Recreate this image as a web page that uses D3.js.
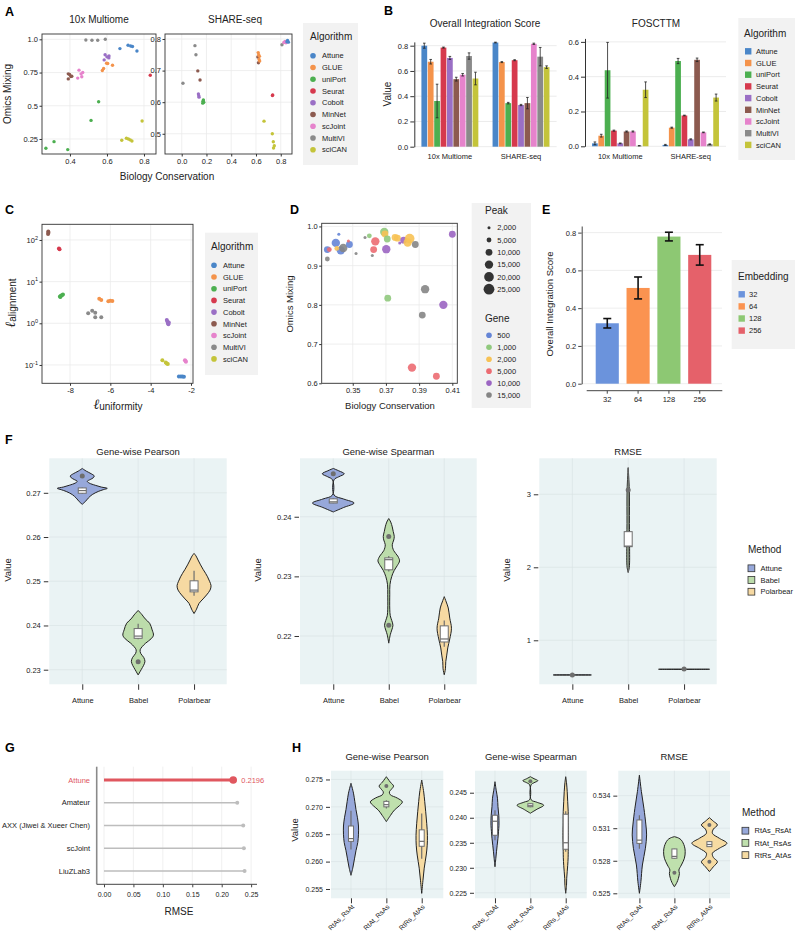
<!DOCTYPE html>
<html>
<head>
<meta charset="utf-8">
<script src="https://cdn.jsdelivr.net/npm/d3@7/dist/d3.min.js"></script>
<style>
  body { margin: 0; background: #fff; }
</style>
</head>
<body>
<div id="canvas"></div>
<script>
// ---------------- data ----------------
var algos = ['Attune','GLUE','uniPort','Seurat','Cobolt','MinNet','scJoint','MultiVI','sciCAN']
var algoPalette = ['#4a86c8','#f4934b','#4caf50','#d6394d','#9a6fc5','#8c5a4f','#e683cc','#8a8a8a','#c4c43a']

// A : [algorithm, biology conservation, omics mixing]
var aMultiome = [
  ['Attune',0.67,0.93],['Attune',0.714,0.955],['Attune',0.728,0.95],['Attune',0.738,0.946],['Attune',0.762,0.912],
  ['GLUE',0.575,0.765],['GLUE',0.582,0.78],['GLUE',0.598,0.82],['GLUE',0.604,0.818],['GLUE',0.63,0.805],
  ['uniPort',0.555,0.53],['uniPort',0.514,0.39],['uniPort',0.27,0.18],['uniPort',0.314,0.23],['uniPort',0.388,0.17],
  ['Seurat',0.834,0.73],
  ['Cobolt',0.59,0.884],['Cobolt',0.611,0.875],['Cobolt',0.61,0.86],['Cobolt',0.585,0.845],['Cobolt',0.6,0.868],
  ['MinNet',0.391,0.702],['MinNet',0.391,0.74],['MinNet',0.405,0.72],['MinNet',0.41,0.722],['MinNet',0.398,0.735],
  ['scJoint',0.449,0.768],['scJoint',0.469,0.75],['scJoint',0.46,0.74],['scJoint',0.442,0.708],['scJoint',0.464,0.718],
  ['MultiVI',0.486,0.995],['MultiVI',0.519,0.993],['MultiVI',0.55,0.993],['MultiVI',0.591,1.0],
  ['sciCAN',0.79,0.385],['sciCAN',0.705,0.255],['sciCAN',0.716,0.25],['sciCAN',0.726,0.243],['sciCAN',0.68,0.24],['sciCAN',0.735,0.235]
]
var aShare = [
  ['MultiVI',0.01,0.66],['MultiVI',0.107,0.779],['MultiVI',0.115,0.75],['MultiVI',0.81,0.782],
  ['MinNet',0.13,0.699],['MinNet',0.148,0.67],['MinNet',0.615,0.743],['MinNet',0.62,0.725],
  ['Cobolt',0.135,0.626],['Cobolt',0.138,0.62],['Cobolt',0.14,0.616],
  ['uniPort',0.175,0.607],['uniPort',0.172,0.603],['uniPort',0.178,0.6],['uniPort',0.17,0.597],
  ['GLUE',0.618,0.757],['GLUE',0.622,0.75],['GLUE',0.628,0.745],['GLUE',0.625,0.735],['GLUE',0.63,0.73],
  ['Seurat',0.735,0.623],['Seurat',0.733,0.621],
  ['sciCAN',0.665,0.54],['sciCAN',0.732,0.5],['sciCAN',0.74,0.475],['sciCAN',0.748,0.462],['sciCAN',0.742,0.455],
  ['scJoint',0.825,0.789],['scJoint',0.835,0.792],['scJoint',0.842,0.788],
  ['Attune',0.855,0.795],['Attune',0.862,0.79],['Attune',0.85,0.791]
]

// B : bar heights and error half-widths, order = algos
var bDatasets = ['10x Multiome','SHARE-seq']
var bOisMultiome    = [0.80,0.673,0.362,0.785,0.703,0.535,0.57,0.718,0.54]
var bOisMultiomeErr = [0.02,0.018,0.133,0.004,0.012,0.015,0.01,0.025,0.05]
var bOisShare       = [0.825,0.67,0.345,0.685,0.33,0.345,0.815,0.713,0.63]
var bOisShareErr    = [0.003,0.004,0.006,0.004,0.005,0.045,0.005,0.073,0.01]
var bFosMultiome    = [0.017,0.061,0.437,0.09,0.017,0.085,0.085,0.003,0.325]
var bFosMultiomeErr = [0.008,0.008,0.16,0.003,0.002,0.003,0.003,0.001,0.045]
var bFosShare       = [0.008,0.107,0.49,0.177,0.04,0.497,0.08,0.012,0.28]
var bFosShareErr    = [0.003,0.003,0.015,0.002,0.003,0.01,0.002,0.002,0.02]

// C : [algorithm, l_uniformity, l_alignment]
var cRows = [
  ['Attune',-2.6,0.053],['Attune',-2.5,0.053],['Attune',-2.42,0.053],['Attune',-2.35,0.052],
  ['GLUE',-6.55,3.9],['GLUE',-6.45,3.6],['GLUE',-6.1,3.4],['GLUE',-6.0,3.5],['GLUE',-5.9,3.45],
  ['uniPort',-8.5,4.4],['uniPort',-8.45,4.6],['uniPort',-8.4,4.7],['uniPort',-8.35,4.9],['uniPort',-8.48,4.3],
  ['Seurat',-8.55,62],['Seurat',-8.52,60],
  ['Cobolt',-3.2,1.2],['Cobolt',-3.17,1.1],['Cobolt',-3.14,1.0],['Cobolt',-3.12,0.95],['Cobolt',-3.1,1.05],
  ['MinNet',-9.08,160],['MinNet',-9.07,150],['MinNet',-9.09,140],
  ['scJoint',-2.3,0.13],['scJoint',-2.27,0.125],['scJoint',-2.25,0.12],
  ['MultiVI',-7.1,1.75],['MultiVI',-6.9,2.0],['MultiVI',-6.75,1.8],['MultiVI',-6.75,1.4],['MultiVI',-6.45,1.4],
  ['sciCAN',-3.42,0.13],['sciCAN',-3.25,0.115],['sciCAN',-3.2,0.108],['sciCAN',-3.15,0.105]
]

// D : [biology conservation, omics mixing, gene, peak]
var dRows = [
  [0.3416,0.980,500,2000],[0.3398,0.958,500,15000],[0.3428,0.939,500,15000],[0.3443,0.945,15000,15000],
  [0.3480,0.954,500,10000],[0.3347,0.941,500,10000],[0.3359,0.941,5000,5000],[0.3347,0.917,15000,5000],
  [0.3404,0.944,2000,5000],[0.3474,0.963,5000,2000],[0.3520,0.931,15000,2000],[0.3574,0.972,15000,2000],
  [0.3600,0.976,1000,5000],[0.3618,0.926,15000,2000],[0.3626,0.941,5000,10000],[0.3636,0.962,5000,15000],
  [0.3690,0.986,1000,15000],[0.3694,0.981,2000,10000],[0.3708,0.968,1000,10000],[0.3702,0.942,10000,15000],
  [0.3711,0.817,1000,10000],[0.3755,0.972,2000,10000],[0.3769,0.970,2000,10000],[0.3783,0.958,10000,2000],
  [0.3807,0.965,10000,10000],[0.3843,0.969,2000,20000],[0.3831,0.959,2000,15000],[0.3877,0.954,15000,10000],
  [0.4100,0.980,10000,10000],[0.3936,0.840,15000,15000],[0.4046,0.800,10000,15000],[0.3919,0.774,15000,10000],
  [0.3857,0.640,5000,15000],[0.4004,0.618,5000,10000]
]
var dGenes = [500,1000,2000,5000,10000,15000]
var dGenePalette = ['#6585d6','#90c97d','#f7c255','#ec6c72','#9b65c2','#858585']
var dPeaks = [2000,5000,10000,15000,20000,25000]

// E
var eEmbed = ['32','64','128','256']
var eScore = [0.32,0.507,0.779,0.682]
var eErr   = [0.025,0.058,0.023,0.054]
var ePalette = ['#6b93dc','#fb9350','#8dc873','#e5616a']

// F : violin profiles [value, relative density], boxes [lo,q1,med,q3,hi], outliers
var fMethods = ['Attune','Babel','Polarbear']
var fPalette = ['#97a8da','#bcdcab','#f6d9a2']
var fPearsonViolin = [
  [[0.2674,0],[0.2680,3],[0.2688,6],[0.2696,10],[0.2703,16],[0.2707,21],[0.2710,25],[0.2713,19],[0.2717,13],[0.2722,7],[0.2726,5],[0.2730,8],[0.2734,11],[0.2738,12],[0.2743,9],[0.2749,4],[0.2755,0]],
  [[0.2288,0],[0.2300,3],[0.2310,5.5],[0.2319,6.8],[0.2328,5.5],[0.2337,2.5],[0.2345,2],[0.2352,4],[0.2360,7.5],[0.2370,13],[0.2378,15.3],[0.2390,14],[0.2405,11.5],[0.2415,7],[0.2424,4],[0.2434,0]],
  [[0.2427,0],[0.2437,2.5],[0.2450,5],[0.2460,9],[0.2469,12.5],[0.2480,16],[0.2490,17],[0.2500,15.5],[0.2510,13.5],[0.2518,11.5],[0.2527,9],[0.2537,6.5],[0.2548,4],[0.2557,2],[0.2563,0]]
]
var fPearsonBox = [[0.2697,0.2699,0.2705,0.2711,0.2712],[0.2369,0.2371,0.2376,0.2393,0.2404],[0.2467,0.2476,0.2480,0.2501,0.2524]]
var fPearsonOut = [[0.2738],[0.2318],[]]

var fSpearmanViolin = [
  [[0.2408,0],[0.24155,10.4],[0.2423,20.8],[0.24297,10.4],[0.24364,0.8],[0.2462,0.8],[0.2467,5.5],[0.2472,11],[0.2477,5.5],[0.2481,0]],
  [[0.2188,0],[0.2202,1.5],[0.2210,3],[0.2218,4.2],[0.2226,3],[0.2234,1.5],[0.2245,1],[0.2270,1],[0.2286,1.2],[0.2300,3],[0.2310,5.5],[0.2318,8.5],[0.2326,10.8],[0.2334,9],[0.2343,5],[0.2353,3.5],[0.2361,5],[0.2367,5.5],[0.2375,4.5],[0.2383,3.5],[0.2391,2],[0.2397,0]],
  [[0.2135,0],[0.2145,1.2],[0.2157,1.5],[0.2168,2.5],[0.2180,3.5],[0.2195,5.5],[0.2213,7.2],[0.2230,5.5],[0.2247,4],[0.2257,2],[0.2266,0]]
]
var fSpearmanBox = [[0.24225,0.2423,0.2425,0.2430,0.2431],[0.2308,0.2311,0.2328,0.2331,0.2334],[0.2182,0.2190,0.2195,0.2217,0.2226]]
var fSpearmanOut = [[0.2472],[0.2367,0.2218],[]]

var fRmseViolin = [
  [[0.5235,0],[0.525,19],[0.5265,0]],
  [[1.93,0],[2.0,1.1],[2.3,1.4],[2.6,1.2],[3.06,1.1],[3.364,0]],
  [[0.6015,0],[0.603,25.5],[0.6045,0]]
]
var fRmseBox = [null,[1.93,2.282,2.29,2.488,3.364],null]
var fRmseOut = [[0.525],[3.06],[0.605]]

// G
var gTeams = ['Attune','Amateur','AXX (Jiwei & Xueer Chen)','scJoint','LiuZLab3']
var gRmse  = [0.2196,0.2264,0.2366,0.2377,0.2389]

// H
var hMethods = ['RtAs_RsAt','RtAt_RsAs','RtRs_AtAs']
var hPalette = ['#97a8da','#bfe0ad','#f6dba2']
var hPearsonViolin = [
  [[0.2575,0],[0.2590,2],[0.2605,3.5],[0.2620,5],[0.2635,6.8],[0.2650,7.5],[0.2665,7.5],[0.2680,6.5],[0.2695,5],[0.2710,3.8],[0.2725,2.5],[0.2743,0]],
  [[0.2673,0],[0.2684,4],[0.2694,8],[0.2702,13],[0.2709,16],[0.2716,11],[0.2722,4],[0.2727,3],[0.2732,5],[0.2738,7.2],[0.2745,4],[0.2755,0]],
  [[0.2542,0],[0.2565,1.2],[0.2588,2.5],[0.2612,4.5],[0.2630,5.5],[0.2648,5.7],[0.2670,5],[0.2691,4],[0.2710,3],[0.2727,2],[0.2749,0]]
]
var hPearsonBox = [[0.2622,0.2637,0.2642,0.2665,0.2693],[0.2697,0.2700,0.2704,0.2710,0.2712],[0.2605,0.2628,0.2637,0.2658,0.2688]]
var hPearsonOut = [[],[0.2738],[]]

var hSpearmanViolin = [
  [[0.2302,0],[0.2318,0.8],[0.2332,1.5],[0.2345,2.2],[0.2359,3],[0.2372,3.5],[0.2385,4],[0.2405,3.8],[0.2422,3],[0.2439,2.5],[0.2455,1.2],[0.2472,0]],
  [[0.2409,0],[0.2417,6.6],[0.2425,13.3],[0.2431,6.5],[0.2436,0.8],[0.2466,0.8],[0.2470,3.7],[0.2474,7.5],[0.2478,3.7],[0.2482,0]],
  [[0.2249,0],[0.2265,0.8],[0.2279,1],[0.2292,1.5],[0.2305,2],[0.2320,2.4],[0.2332,2.5],[0.2350,2.7],[0.2365,2.8],[0.2390,2.6],[0.2412,2.5],[0.2432,2],[0.2452,1.5],[0.2470,0.8],[0.2482,0]]
]
var hSpearmanBox = [[0.2355,0.2365,0.2393,0.2405,0.2415],[0.2421,0.2422,0.2424,0.2428,0.2429],[0.2332,0.2337,0.2350,0.2407,0.2413]]
var hSpearmanOut = [[],[0.2473],[]]

var hRmseViolin = [
  [[0.5250,0],[0.52607,1.5],[0.52761,3],[0.52915,6],[0.53038,7.2],[0.5313,6.5],[0.53284,4.5],[0.53437,2],[0.5359,0]],
  [[0.5256,0],[0.52600,2.5],[0.52638,4],[0.52684,5],[0.52715,4.5],[0.52761,7],[0.52823,10],[0.52884,10.8],[0.52934,10],[0.52990,7],[0.53010,4],[0.53022,0]],
  [[0.5270,0],[0.52745,4],[0.52791,8],[0.52830,4],[0.52869,3],[0.52915,10],[0.52961,17.5],[0.53007,10],[0.53053,3],[0.53092,4],[0.5313,8],[0.53164,4],[0.53197,0]]
]
var hRmseBox = [[0.5291,0.5296,0.5299,0.53176,0.5322],[0.5282,0.52823,0.5284,0.52909,0.5291],[0.5293,0.5293,0.5295,0.52976,0.5298]]
var hRmseOut = [[],[0.5269],[0.5313,0.52791]]

// ticks
var aLeftX = [0.4,0.6,0.8],            aLeftXLab = ['0.4','0.6','0.8']
var aLeftY = [0.25,0.5,0.75,1.0],      aLeftYLab = ['0.25','0.5','0.75','1.0']
var aRightX = [0,0.2,0.4,0.6,0.8],     aRightXLab = ['0.0','0.2','0.4','0.6','0.8']
var aRightY = [0.5,0.6,0.7,0.8],       aRightYLab = ['0.5','0.6','0.7','0.8']
var bOisTicks = [0,0.2,0.4,0.6,0.8],   bOisLab = ['0.0','0.2','0.4','0.6','0.8']
var bFosTicks = [0,0.2,0.4,0.6],       bFosLab = ['0.0','0.2','0.4','0.6']
var cXTicks = [-8,-6,-4,-2],           cXLab = ['-8','-6','-4','-2']
var cYTicks = [0.1,1,10,100],          cYExp = ['-1','0','1','2']
var dXTicks = [0.35,0.37,0.39,0.41],   dXLab = ['0.35','0.37','0.39','0.41']
var dYTicks = [0.6,0.7,0.8,0.9,1.0],   dYLab = ['0.6','0.7','0.8','0.9','1.0']
var eYTicks = [0,0.2,0.4,0.6,0.8],     eYLab = ['0.0','0.2','0.4','0.6','0.8']
var fPearsonTicks = [0.23,0.24,0.25,0.26,0.27], fPearsonLab = ['0.23','0.24','0.25','0.26','0.27']
var fSpearmanTicks = [0.22,0.23,0.24],          fSpearmanLab = ['0.22','0.23','0.24']
var fRmseTicks = [1,2,3],                       fRmseLab = ['1','2','3']
var gTicks = [0,0.05,0.1,0.15,0.2,0.25],        gLab = ['0.00','0.05','0.10','0.15','0.20','0.25']
var hPearsonTicks = [0.255,0.26,0.265,0.27,0.275], hPearsonLab = ['0.255','0.260','0.265','0.270','0.275']
var hSpearmanTicks = [0.225,0.23,0.235,0.24,0.245], hSpearmanLab = ['0.225','0.230','0.235','0.240','0.245']
var hRmseTicks = [0.525,0.528,0.531,0.534],     hRmseLab = ['0.525','0.528','0.531','0.534']

// ---------------- canvas ----------------
var FONT = '"Liberation Sans", Arial, Helvetica, sans-serif'
var Svg = d3.select('#canvas').append('svg')
    .attr('width',795).attr('height',940)
    .attr('font-family',FONT)
Svg.append('rect').attr('width',795).attr('height',940).attr('fill','#fff')

var algoColor = d3.scaleOrdinal().domain(algos).range(algoPalette)

function txt(x,y,s,size,o){
  o = o || {}
  return Svg.append('text').attr('x',x).attr('y',y)
    .attr('font-size',size)
    .attr('text-anchor',o.anchor || 'start')
    .attr('fill',o.fill || '#222')
    .attr('font-weight',o.weight || null)
    .attr('transform',o.rot ? 'rotate('+o.rot+','+x+','+y+')' : null)
    .text(s)
}
function letter(x,y,s){ txt(x,y,s,12.5,{weight:'bold',fill:'#000'}) }

function axisBottom(g,scale,y,vals,labs,size,tick,base){
  var s = g.append('g').attr('transform','translate(0,'+y+')')
    .call(d3.axisBottom(scale).tickValues(vals).tickSize(tick).tickSizeOuter(0)
      .tickFormat(function(d,i){ return labs[i] }))
  s.attr('font-size',size).attr('font-family',FONT)
  s.select('.domain').remove()
  s.selectAll('.tick line').attr('stroke','#333')
  s.selectAll('.tick text').attr('dy',null).attr('y',base).attr('fill','#222')
  return s
}
function axisLeft(g,scale,x,vals,labs,size,tick,pad){
  var s = g.append('g').attr('transform','translate('+x+',0)')
    .call(d3.axisLeft(scale).tickValues(vals).tickSize(tick).tickPadding(pad).tickSizeOuter(0)
      .tickFormat(function(d,i){ return labs[i] }))
  s.attr('font-size',size).attr('font-family',FONT)
  s.select('.domain').remove()
  s.selectAll('.tick line').attr('stroke','#333')
  s.selectAll('.tick text').attr('fill','#222')
  return s
}

// framed scatter panel (A, C, D)
function framed(xs,ys,xt,xl,yt,yl,size){
  var g = Svg.append('g')
  var xr = xs.range(), yr = ys.range()
  g.selectAll(null).data(xt).join('line')
    .attr('x1',d=>xs(d)).attr('x2',d=>xs(d)).attr('y1',yr[1]).attr('y2',yr[0])
    .attr('stroke','#ebebeb').attr('stroke-width',0.8)
  g.selectAll(null).data(yt).join('line')
    .attr('x1',xr[0]).attr('x2',xr[1]).attr('y1',d=>ys(d)).attr('y2',d=>ys(d))
    .attr('stroke','#ebebeb').attr('stroke-width',0.8)
  axisBottom(g,xs,yr[0],xt,xl,size,2.5,9.5)
  var yl_ = axisLeft(g,ys,xr[0],yt,yl,size,2.5,1.5)
  g.append('rect').attr('x',xr[0]).attr('y',yr[1])
    .attr('width',xr[1]-xr[0]).attr('height',yr[0]-yr[1])
    .attr('fill','none').attr('stroke','#333').attr('stroke-width',0.9)
  return {g:g, yAxis:yl_}
}

// ================= A =================
letter(5,15.7,'A')
var xA1 = d3.scaleLinear().domain([0.249,0.865]).range([42,156])
var yA1 = d3.scaleLinear().domain([0.137,1.04]).range([154,34])
var pA1 = framed(xA1,yA1,aLeftX,aLeftXLab,aLeftY,aLeftYLab,7.5)
pA1.g.selectAll('circle').data(aMultiome).join('circle')
  .attr('cx',d=>xA1(d[1])).attr('cy',d=>yA1(d[2])).attr('r',1.7)
  .attr('fill',d=>algoColor(d[0]))
txt(99,22.5,'10x Multiome',10,{anchor:'middle'})

var xA2 = d3.scaleLinear().domain([-0.135,0.891]).range([165,292])
var yA2 = d3.scaleLinear().domain([0.436,0.8158]).range([154,34])
var pA2 = framed(xA2,yA2,aRightX,aRightXLab,aRightY,aRightYLab,7.5)
pA2.g.selectAll('circle').data(aShare).join('circle')
  .attr('cx',d=>xA2(d[1])).attr('cy',d=>yA2(d[2])).attr('r',1.7)
  .attr('fill',d=>algoColor(d[0]))
txt(235,22.5,'SHARE-seq',10,{anchor:'middle'})
txt(167,180,'Biology Conservation',10,{anchor:'middle'})
txt(11,94,'Omics Mixing',10,{anchor:'middle',rot:-90})

function algoLegend(x,y,w,h,tx,ty,y0,step,square){
  Svg.append('rect').attr('x',x).attr('y',y).attr('width',w).attr('height',h).attr('fill','#f2f2f2')
  txt(tx,ty,'Algorithm',10)
  var g = Svg.append('g')
  if(square){
    g.selectAll('rect').data(algos).join('rect')
      .attr('x',tx+1).attr('y',(d,i)=>y0+i*step-3.2).attr('width',6.4).attr('height',6.4)
      .attr('fill',d=>algoColor(d))
  } else {
    g.selectAll('circle').data(algos).join('circle')
      .attr('cx',tx+3).attr('cy',(d,i)=>y0+i*step).attr('r',2.8)
      .attr('fill',d=>algoColor(d))
  }
  g.selectAll('text').data(algos).join('text')
    .attr('x',tx+12).attr('y',(d,i)=>y0+i*step+2.7)
    .attr('font-size',7.5).attr('fill','#222').text(d=>d)
}
algoLegend(303,23,55,142,310,40,55.7,11.75,false)

// ================= B =================
letter(384,15,'B')
function barPanel(x0,x1,yDom,yTop,yBot,ticks,labs,vals,errs,title,titleX){
  var g = Svg.append('g')
  var xs = d3.scaleBand().domain(bDatasets).range([x0,x1]).paddingInner(0.2).paddingOuter(0.1)
  var inner = d3.scaleBand().domain(algos).range([0,xs.bandwidth()]).paddingInner(0.1)
  var ys = d3.scaleLinear().domain(yDom).range([yBot,yTop])
  g.selectAll(null).data(ticks).join('line')
    .attr('x1',x0).attr('x2',x1).attr('y1',d=>ys(d)).attr('y2',d=>ys(d))
    .attr('stroke','#e6e6e6').attr('stroke-width',0.8)
  var rows = []
  bDatasets.forEach(function(ds,j){
    algos.forEach(function(a,i){ rows.push({ds:ds,a:a,v:vals[j][i],e:errs[j][i]}) })
  })
  g.selectAll('rect').data(rows).join('rect')
    .attr('x',d=>xs(d.ds)+inner(d.a)).attr('width',inner.bandwidth())
    .attr('y',d=>ys(d.v)).attr('height',d=>ys(0)-ys(d.v))
    .attr('fill',d=>algoColor(d.a))
  var eb = g.selectAll('g.err').data(rows).join('g').attr('class','err')
    .attr('transform',d=>'translate('+(xs(d.ds)+inner(d.a)+inner.bandwidth()/2)+',0)')
  eb.append('line').attr('y1',d=>ys(d.v-d.e)).attr('y2',d=>ys(d.v+d.e)).attr('stroke','#222').attr('stroke-width',0.8)
  eb.append('line').attr('x1',-1.3).attr('x2',1.3).attr('y1',d=>ys(d.v-d.e)).attr('y2',d=>ys(d.v-d.e)).attr('stroke','#222').attr('stroke-width',0.8)
  eb.append('line').attr('x1',-1.3).attr('x2',1.3).attr('y1',d=>ys(d.v+d.e)).attr('y2',d=>ys(d.v+d.e)).attr('stroke','#222').attr('stroke-width',0.8)
  var ya = g.append('g').attr('transform','translate('+x0+',0)')
    .call(d3.axisLeft(ys).tickValues(ticks).tickSize(4).tickPadding(2).tickSizeOuter(0)
      .tickFormat(function(d,i){ return labs[i] }))
  ya.attr('font-size',7.5).attr('font-family',FONT)
  ya.selectAll('line,path').attr('stroke','#333')
  ya.selectAll('text').attr('fill','#222')
  var xa = g.append('g').attr('transform','translate(0,'+yBot+')')
    .call(d3.axisBottom(xs).tickSize(0))
  xa.attr('font-size',7.5).attr('font-family',FONT)
  xa.select('.domain').remove()
  xa.selectAll('text').attr('dy',null).attr('y',12.6).attr('fill','#222')
  txt(titleX,27.3,title,10,{anchor:'middle'})
}
barPanel(414.3,556.6,[0,0.83],41.9,146.7,bOisTicks,bOisLab,
  [bOisMultiome,bOisShare],[bOisMultiomeErr,bOisShareErr],'Overall Integration Score',485)
barPanel(585,726,[0,0.62],38.4,146.3,bFosTicks,bFosLab,
  [bFosMultiome,bFosShare],[bFosMultiomeErr,bFosShareErr],'FOSCTTM',656)
txt(390.5,94,'Value',10,{anchor:'middle',rot:-90})
algoLegend(738.3,18,60,142,744,37,51.3,11.7,true)

// ================= C =================
letter(5,213.5,'C')
var xC = d3.scaleLinear().domain([-9.39,-1.9]).range([42,193])
var yC = d3.scaleLog().domain([Math.pow(10,-1.44),Math.pow(10,2.376)]).range([383.3,224.3])
var pC = framed(xC,yC,cXTicks,cXLab,cYTicks,cYTicks.map(String),7.5)
pC.yAxis.selectAll('.tick text').text('').each(function(d,i){
  var t = d3.select(this)
  t.append('tspan').text('10')
  t.append('tspan').attr('dy',-3.2).attr('font-size',5.5).text(cYExp[i])
})
pC.g.selectAll('circle').data(cRows).join('circle')
  .attr('cx',d=>xC(d[1])).attr('cy',d=>yC(d[2])).attr('r',2)
  .attr('fill',d=>algoColor(d[0]))
var cxl = Svg.append('text').attr('x',118).attr('y',409).attr('text-anchor','middle').attr('fill','#222')
cxl.append('tspan').attr('font-family','"DejaVu Serif"').attr('font-style','italic').attr('font-size',14).text('ℓ')
cxl.append('tspan').attr('font-size',10).attr('dy',1).text('uniformity')
var cyl = Svg.append('text').attr('x',15).attr('y',303).attr('text-anchor','middle').attr('fill','#222')
  .attr('transform','rotate(-90,15,303)')
cyl.append('tspan').attr('font-family','"DejaVu Serif"').attr('font-style','italic').attr('font-size',14).text('ℓ')
cyl.append('tspan').attr('font-size',10).attr('dy',1).text('alignment')
algoLegend(205,232.7,53,142.3,211,250,265.3,11.7,false)

// ================= D =================
letter(290,213.5,'D')
var xD = d3.scaleLinear().domain([0.3313,0.413]).range([321.7,457.3])
var yD = d3.scaleLinear().domain([0.6,1.008]).range([383.3,223.3])
var rD = d3.scaleSqrt().domain([0,25000]).range([0,5.4])
var geneColor = d3.scaleOrdinal().domain(dGenes).range(dGenePalette)
var pD = framed(xD,yD,dXTicks,dXLab,dYTicks,dYLab,7.5)
pD.g.selectAll('circle').data(dRows).join('circle')
  .attr('cx',d=>xD(d[0])).attr('cy',d=>yD(d[1])).attr('r',d=>rD(d[3]))
  .attr('fill',d=>geneColor(d[2])).attr('fill-opacity',0.9)
txt(390,409,'Biology Conservation',9.5,{anchor:'middle'})
txt(293,304,'Omics Mixing',9.5,{anchor:'middle',rot:-90})
Svg.append('rect').attr('x',471.7).attr('y',203).attr('width',59.3).attr('height',205).attr('fill','#f2f2f2')
txt(485,214.3,'Peak',10)
var lgD = Svg.append('g')
lgD.selectAll('circle.pk').data(dPeaks).join('circle').attr('class','pk')
  .attr('cx',489).attr('cy',(d,i)=>227.7+i*12.3).attr('r',d=>rD(d)).attr('fill','#333')
lgD.selectAll('text.pk').data(dPeaks).join('text').attr('class','pk')
  .attr('x',497.3).attr('y',(d,i)=>227.7+i*12.3+2.7).attr('font-size',7.5).attr('fill','#222')
  .text(d=>d3.format(',')(d))
txt(485,321.7,'Gene',10)
lgD.selectAll('circle.gn').data(dGenes).join('circle').attr('class','gn')
  .attr('cx',489).attr('cy',(d,i)=>335.3+i*11.95).attr('r',2.8).attr('fill',d=>geneColor(d))
lgD.selectAll('text.gn').data(dGenes).join('text').attr('class','gn')
  .attr('x',497.3).attr('y',(d,i)=>335.3+i*11.95+2.7).attr('font-size',7.5).attr('fill','#222')
  .text(d=>d3.format(',')(d))

// ================= E =================
letter(542,213.5,'E')
var xE = d3.scaleBand().domain(eEmbed).range([588,719]).padding(0.25)
var yE = d3.scaleLinear().domain([0,0.835]).range([383.7,226])
var embColor = d3.scaleOrdinal().domain(eEmbed).range(ePalette)
var gE = Svg.append('g')
gE.selectAll(null).data(eYTicks).join('line')
  .attr('x1',581.7).attr('x2',722).attr('y1',d=>yE(d)).attr('y2',d=>yE(d))
  .attr('stroke','#e8e8e8').attr('stroke-width',0.8)
gE.selectAll('rect').data(eEmbed).join('rect')
  .attr('x',d=>xE(d)).attr('width',xE.bandwidth())
  .attr('y',(d,i)=>yE(eScore[i])).attr('height',(d,i)=>yE(0)-yE(eScore[i]))
  .attr('fill',d=>embColor(d))
var ebE = gE.selectAll('g.err').data(eEmbed).join('g').attr('class','err')
  .attr('transform',d=>'translate('+(xE(d)+xE.bandwidth()/2)+',0)')
ebE.append('line').attr('y1',(d,i)=>yE(eScore[i]-eErr[i])).attr('y2',(d,i)=>yE(eScore[i]+eErr[i]))
  .attr('stroke','#111').attr('stroke-width',1.6)
ebE.append('line').attr('x1',-4).attr('x2',4).attr('y1',(d,i)=>yE(eScore[i]-eErr[i])).attr('y2',(d,i)=>yE(eScore[i]-eErr[i]))
  .attr('stroke','#111').attr('stroke-width',1.6)
ebE.append('line').attr('x1',-4).attr('x2',4).attr('y1',(d,i)=>yE(eScore[i]+eErr[i])).attr('y2',(d,i)=>yE(eScore[i]+eErr[i]))
  .attr('stroke','#111').attr('stroke-width',1.6)
var yaE = gE.append('g').attr('transform','translate(581.7,0)')
  .call(d3.axisLeft(yE).tickValues(eYTicks).tickSize(3.5).tickPadding(2).tickSizeOuter(0)
    .tickFormat(function(d,i){ return eYLab[i] }))
yaE.attr('font-size',7.5).attr('font-family',FONT)
yaE.selectAll('line,path').attr('stroke','#444')
yaE.selectAll('text').attr('fill','#222')
var xaE = gE.append('g').attr('transform','translate(0,390.7)')
  .call(d3.axisBottom(xE).tickSize(3).tickSizeOuter(0))
xaE.select('.domain').attr('d','M586.7,0H722.3')
xaE.attr('font-size',7.5).attr('font-family',FONT)
xaE.selectAll('line,path').attr('stroke','#444')
xaE.selectAll('text').attr('dy',null).attr('y',11).attr('fill','#222')
txt(552.5,304,'Overall Integration Score',9.5,{anchor:'middle',rot:-90})
Svg.append('rect').attr('x',731.7).attr('y',260).attr('width',63.3).attr('height',89).attr('fill','#f2f2f2')
txt(738,280,'Embedding',10)
var lgE = Svg.append('g')
lgE.selectAll('rect').data(eEmbed).join('rect')
  .attr('x',738.5).attr('y',(d,i)=>294.3+i*12.1-3.2).attr('width',6.4).attr('height',6.4).attr('fill',d=>embColor(d))
lgE.selectAll('text').data(eEmbed).join('text')
  .attr('x',749).attr('y',(d,i)=>294.3+i*12.1+2.7).attr('font-size',7.5).attr('fill','#222').text(d=>d)

// ================= violins (F, H) =================
function violinPanel(p){
  var g = Svg.append('g')
  var xs = d3.scalePoint().domain(p.cats).range(p.catRange).padding(0.5)
  var ys = d3.scaleLinear().domain(p.yDom).range([p.y1,p.y0])
  var maxD = d3.max(p.violins, v => d3.max(v, d => d[1]))
  var ws = d3.scaleLinear().domain([0,maxD]).range([0,p.maxHalf])
  g.append('rect').attr('x',p.x0).attr('y',p.y0).attr('width',p.x1-p.x0).attr('height',p.y1-p.y0).attr('fill','#eaf3f4')
  g.selectAll('line.gy').data(p.ticks).join('line').attr('class','gy')
    .attr('x1',p.x0).attr('x2',p.x1).attr('y1',d=>ys(d)).attr('y2',d=>ys(d))
    .attr('stroke','#d6e0e3').attr('stroke-width',0.6)
  g.selectAll('line.gx').data(p.cats).join('line').attr('class','gx')
    .attr('x1',d=>xs(d)).attr('x2',d=>xs(d)).attr('y1',p.y0).attr('y2',p.y1)
    .attr('stroke','#d6e0e3').attr('stroke-width',0.6)
  p.cats.forEach(function(c,i){
    var cx = xs(c)
    var area = d3.area().curve(d3.curveCatmullRom)
      .y(d=>ys(d[0])).x0(d=>cx-ws(d[1])).x1(d=>cx+ws(d[1]))
    g.append('path').attr('d',area(p.violins[i]))
      .attr('fill',p.colors[i]).attr('stroke','#222').attr('stroke-width',1)
    var b = p.boxes[i]
    if(b){
      g.append('line').attr('x1',cx).attr('x2',cx).attr('y1',ys(b[0])).attr('y2',ys(b[4]))
        .attr('stroke','#6e6e6e').attr('stroke-width',1.2)
      g.append('rect').attr('x',cx-p.boxW/2).attr('width',p.boxW)
        .attr('y',ys(b[3])).attr('height',Math.max(ys(b[1])-ys(b[3]),1.5))
        .attr('fill','#fff').attr('stroke','#6e6e6e').attr('stroke-width',1)
      g.append('line').attr('x1',cx-p.boxW/2).attr('x2',cx+p.boxW/2).attr('y1',ys(b[2])).attr('y2',ys(b[2]))
        .attr('stroke','#6e6e6e').attr('stroke-width',1.2)
    }
    g.selectAll(null).data(p.outs[i]).join('circle')
      .attr('cx',cx).attr('cy',d=>ys(d)).attr('r',p.dotR).attr('fill','#6e6e6e')
  })
  var ya = g.append('g').attr('transform','translate('+(p.x0-1)+',0)')
    .call(d3.axisLeft(ys).tickValues(p.ticks).tickSize(p.tickLen).tickPadding(3).tickSizeOuter(0)
      .tickFormat(function(d,i){ return p.labs[i] }))
  ya.attr('font-size',p.tickFont).attr('font-family',FONT)
  ya.select('.domain').remove()
  ya.selectAll('line').attr('stroke','#333')
  ya.selectAll('text').attr('fill','#222')
  var xa = g.append('g').attr('transform','translate(0,'+p.y1+')')
    .call(d3.axisBottom(xs).tickSize(p.tickLen+1))
  xa.attr('font-size',p.catFont).attr('font-family',FONT)
  xa.select('.domain').remove()
  xa.selectAll('line').attr('stroke','#333')
  if(p.rotate){
    xa.selectAll('text').attr('dy',null).attr('y',0)
      .attr('text-anchor','end').attr('transform','translate(3,9) rotate(-45)').attr('fill','#222')
  } else {
    xa.selectAll('text').attr('dy',null).attr('y',p.catBase).attr('fill','#222')
  }
  txt((p.x0+p.x1)/2,p.titleY,p.title,p.titleSize,{anchor:'middle'})
  if(p.valX != null) txt(p.valX,p.valY,'Value',9.5,{anchor:'middle',rot:-90})
}
function methodLegend(x,y0,step,names,colors){
  txt(x,y0-15,'Method',10)
  var g = Svg.append('g')
  g.selectAll('rect').data(names).join('rect')
    .attr('x',x).attr('y',(d,i)=>y0+i*step-3.4).attr('width',6.8).attr('height',6.8)
    .attr('fill',(d,i)=>colors[i]).attr('stroke','#333').attr('stroke-width',0.8)
  g.selectAll('text').data(names).join('text')
    .attr('x',x+12.5).attr('y',(d,i)=>y0+i*step+2.7).attr('font-size',7.5).attr('fill','#222').text(d=>d)
}

// ================= F =================
letter(5,444.3,'F')
var fCommon = {cats:fMethods,colors:fPalette,y0:458.3,y1:684.3,boxW:8,dotR:2.5,tickLen:4.5,
  tickFont:7.5,catFont:7.5,catBase:19,titleY:455,titleSize:9.5,valY:570,rotate:false}
violinPanel(Object.assign({},fCommon,{x0:49.3,x1:226.7,catRange:[54.3,222],yDom:[0.2267,0.2778],
  ticks:fPearsonTicks,labs:fPearsonLab,violins:fPearsonViolin,boxes:fPearsonBox,outs:fPearsonOut,
  maxHalf:25,title:'Gene-wise Pearson',valX:11}))
violinPanel(Object.assign({},fCommon,{x0:300,x1:476.7,catRange:[305.5,472],yDom:[0.2119,0.2498],
  ticks:fSpearmanTicks,labs:fSpearmanLab,violins:fSpearmanViolin,boxes:fSpearmanBox,outs:fSpearmanOut,
  maxHalf:20.8,title:'Gene-wise Spearman',valX:260.5}))
violinPanel(Object.assign({},fCommon,{x0:539.3,x1:716.7,catRange:[544.4,712],yDom:[0.397,3.493],
  ticks:fRmseTicks,labs:fRmseLab,violins:fRmseViolin,boxes:fRmseBox,outs:fRmseOut,
  maxHalf:25.5,title:'RMSE',valX:509.5}))
methodLegend(748,568.3,11.7,fMethods,fPalette)

// ================= G =================
letter(5,751.7,'G')
var xG = d3.scaleLinear().domain([-0.0124,0.26]).range([96.7,257])
var yG = d3.scalePoint().domain(gTeams).range([768.6,882.4]).padding(0.5)
var gG = Svg.append('g')
gG.selectAll('line.grid').data(gTicks).join('line').attr('class','grid')
  .attr('x1',d=>xG(d)).attr('x2',d=>xG(d)).attr('y1',766.7).attr('y2',884.3)
  .attr('stroke','#ececec').attr('stroke-width',0.8)
gG.selectAll('line.stem').data(gTeams).join('line').attr('class','stem')
  .attr('x1',xG(0)).attr('x2',(d,i)=>xG(gRmse[i])).attr('y1',d=>yG(d)).attr('y2',d=>yG(d))
  .attr('stroke',(d,i)=>i===0 ? '#e0575f' : '#bdbdbd').attr('stroke-width',(d,i)=>i===0 ? 3 : 1.5)
gG.selectAll('circle').data(gTeams).join('circle')
  .attr('cx',(d,i)=>xG(gRmse[i])).attr('cy',d=>yG(d)).attr('r',(d,i)=>i===0 ? 3.8 : 2)
  .attr('fill',(d,i)=>i===0 ? '#e0575f' : '#bdbdbd')
gG.selectAll('text.team').data(gTeams).join('text').attr('class','team')
  .attr('x',90).attr('y',d=>yG(d)+2.7).attr('text-anchor','end').attr('font-size',7.5)
  .attr('fill',(d,i)=>i===0 ? '#e0575f' : '#222').text(d=>d)
gG.append('text').attr('x',xG(gRmse[0])+8).attr('y',yG(gTeams[0])+2.7)
  .attr('font-size',7.5).attr('fill','#e0575f').text(d3.format('.4f')(gRmse[0]))
gG.append('line').attr('x1',96.7).attr('x2',96.7).attr('y1',766.7).attr('y2',884.3)
  .attr('stroke','#8a8a8a').attr('stroke-width',1.6)
var xaG = gG.append('g').attr('transform','translate(0,884.3)')
  .call(d3.axisBottom(xG).tickValues(gTicks).tickSize(3).tickSizeOuter(0)
    .tickFormat(function(d,i){ return gLab[i] }))
xaG.select('.domain').attr('d','M96.7,0H257')
xaG.attr('font-size',7).attr('font-family',FONT)
xaG.selectAll('line,path').attr('stroke','#444')
xaG.selectAll('text').attr('dy',null).attr('y',13).attr('fill','#222')
txt(179,915,'RMSE',10,{anchor:'middle'})

// ================= H =================
letter(292,751.7,'H')
var hCommon = {cats:hMethods,colors:hPalette,y0:770.7,y1:898.3,boxW:5,dotR:2,tickLen:4,
  tickFont:7,catFont:6.8,titleY:760,titleSize:9.5,valY:830,rotate:true}
violinPanel(Object.assign({},hCommon,{x0:331,x1:443.3,catRange:[333.3,439.4],yDom:[0.2533,0.2766],
  ticks:hPearsonTicks,labs:hPearsonLab,violins:hPearsonViolin,boxes:hPearsonBox,outs:hPearsonOut,
  maxHalf:16,title:'Gene-wise Pearson',valX:298}))
violinPanel(Object.assign({},hCommon,{x0:475,x1:586.7,catRange:[477.3,583.4],yDom:[0.2239,0.2494],
  ticks:hSpearmanTicks,labs:hSpearmanLab,violins:hSpearmanViolin,boxes:hSpearmanBox,outs:hSpearmanOut,
  maxHalf:13.3,title:'Gene-wise Spearman',valX:null}))
violinPanel(Object.assign({},hCommon,{x0:618.3,x1:730,catRange:[621.9,726.9],yDom:[0.52454,0.5363],
  ticks:hRmseTicks,labs:hRmseLab,violins:hRmseViolin,boxes:hRmseBox,outs:hRmseOut,
  maxHalf:17.5,title:'RMSE',valX:null}))
methodLegend(742,830.7,12.2,hMethods,hPalette)
</script>
</body>
</html>
